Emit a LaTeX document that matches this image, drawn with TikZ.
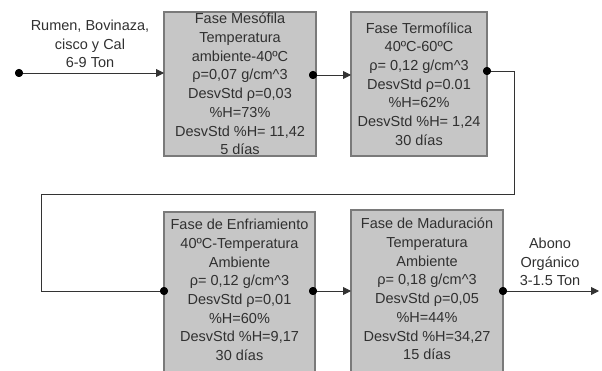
\documentclass[tikz,border=0pt]{standalone}
\usepackage{fontspec}
\setmainfont{Liberation Sans}
\usetikzlibrary{arrows.meta}
\definecolor{boxfill}{HTML}{C6C6C6}
\definecolor{boxline}{HTML}{7A7A7A}
\definecolor{txt}{HTML}{303030}
\begin{document}
\begin{tikzpicture}[x=1pt,y=-1pt,
  phase/.style={draw=boxline, line width=1.6pt, fill=boxfill, text=txt, inner sep=0pt},
  plain/.style={text=txt, align=center, font=\fontsize{14.5}{18.7}\selectfont},
  flow/.style={draw=black!80, line width=0.9pt},
  arr/.style={flow, -{Triangle[length=8pt,width=8pt]}},
  dot/.style={circle, fill=black, inner sep=0pt, minimum size=8pt}]
\useasboundingbox (0,0) rectangle (602,371);

% phase boxes
\path[phase] (164,12) rectangle (316,156);
\path[phase] (351,12) rectangle (487,156);
\path[phase] (164,212) rectangle (315,374);
\path[phase] (351,210) rectangle (503,374);

\node[plain] (t1) at (240,84) {Fase Mesófila\\Temperatura\\ambiente-40ºC\\ρ=0,07 g/cm\textasciicircum3\\DesvStd ρ=0,03\\\%H=73\%\\DesvStd \%H= 11,42\\5 días};
\node[plain] (t2) at (419,84) {Fase Termofílica\\40ºC-60ºC\\ρ= 0,12 g/cm\textasciicircum3\\DesvStd ρ=0.01\\\%H=62\%\\DesvStd \%H= 1,24\\30 días};
\node[plain] (t3) at (239.5,290) {Fase de Enfriamiento\\40ºC-Temperatura\\Ambiente\\ρ= 0,12 g/cm\textasciicircum3\\DesvStd ρ=0,01\\\%H=60\%\\DesvStd \%H=9,17\\30 días};
\node[plain] (t4) at (427,289) {Fase de Maduración\\Temperatura\\Ambiente\\ρ= 0,18 g/cm\textasciicircum3\\DesvStd ρ=0,05\\\%H=44\%\\DesvStd \%H=34,27\\15 días};

% input and output labels
\node[plain] (in) at (90,44) {Rumen, Bovinaza,\\cisco y Cal\\6-9 Ton};
\node[plain] (out) at (550,262) {Abono\\Orgánico\\3-1.5 Ton};

% connection points
\node[dot] (d0) at (19,73) {};
\coordinate (a1) at (164,73);
\node[dot] (d1) at (313,75) {};
\coordinate (a2) at (351,75);
\node[dot] (d2) at (487,71) {};
\coordinate (c1) at (514,71);
\coordinate (c2) at (514,194);
\coordinate (c3) at (41,194);
\coordinate (c4) at (41,291);
\node[dot] (d3) at (164,291) {};
\node[dot] (d4) at (313,291) {};
\coordinate (a4) at (351,291);
\node[dot] (d5) at (503,291) {};
\coordinate (a5) at (599,291);

% flow connectors
\draw[arr] (d0.center) -- (a1);
\draw[arr] (d1.center) -- (a2);
\draw[flow] (d2.center) -- (c1) -- (c2) -- (c3) -- (c4) -- (d3.center);
\draw[arr] (d4.center) -- (a4);
\draw[arr] (d5.center) -- (a5);

% dots on top of lines
\foreach \n in {d0,d1,d2,d3,d4,d5} \node[dot] at (\n) {};
\end{tikzpicture}
\end{document}
